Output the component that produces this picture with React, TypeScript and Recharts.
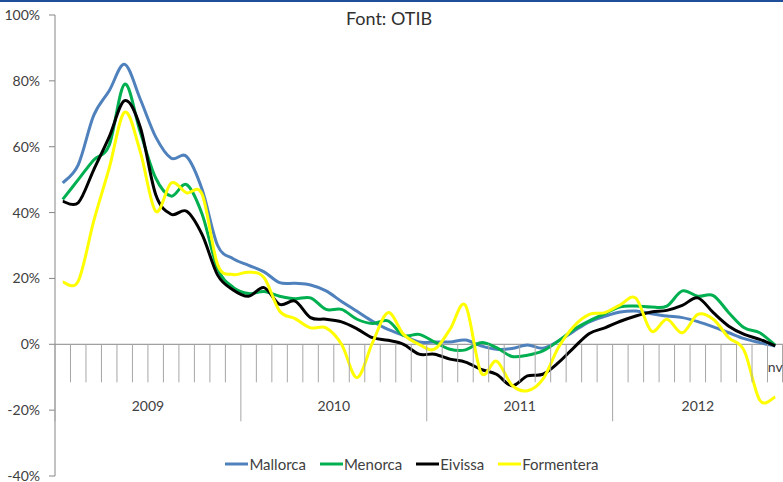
import React from "react";
import { LineChart, Line, XAxis, YAxis, ReferenceLine, Legend } from "recharts";

const categories = [
  "gn-09", "fb-09", "mç-09", "ab-09", "mg-09", "jn-09", "jl-09", "ag-09", "st-09", "oc-09", "nv-09", "ds-09",
  "gn-10", "fb-10", "mç-10", "ab-10", "mg-10", "jn-10", "jl-10", "ag-10", "st-10", "oc-10", "nv-10", "ds-10",
  "gn-11", "fb-11", "mç-11", "ab-11", "mg-11", "jn-11", "jl-11", "ag-11", "st-11", "oc-11", "nv-11", "ds-11",
  "gn-12", "fb-12", "mç-12", "ab-12", "mg-12", "jn-12", "jl-12", "ag-12", "st-12", "oc-12", "nv-12",
];

const shownTickLabels: Record<string, string> = { "nv-12": "nv" };

const mallorca = [
  49, 54.5, 69.5, 77, 85, 74.5, 63, 56.5, 57, 47, 30, 26,
  24, 22, 18.7, 18.5, 18, 16.2, 13, 10, 7, 4.5, 2.7, 0.7,
  0.7, 0.7, 1.3, -0.5, -1.5, -1.3, -0.2, -1.2, 1, 4, 6.8, 8.5,
  9.8, 10.1, 9.3, 8.6, 8.1, 6.9, 5.3, 3.5, 1.7, 0.5, -0.5,
];
const menorca = [
  44, 50, 56, 60.5, 79, 64.5, 50.5, 45, 48.5, 39.5, 23, 17.3,
  15.4, 16, 14.6, 13.8, 14.1, 10.6, 10.6, 7.6, 6.3, 7.1, 2.7, 3,
  0.7, -1.5, -1.7, 0.5, -1, -3.7, -3.3, -2, 1, 4.5, 7.1, 9.3,
  11.4, 11.6, 11.3, 11.6, 16.2, 14.6, 14.8, 9.6, 5, 3.5, -0.3,
];
const eivissa = [
  43.4, 43, 53, 63, 74, 66, 45.5, 39.5, 40.4, 33.3, 21, 16.5,
  14.6, 17.2, 12.1, 13.1, 8.1, 7.6, 6.8, 4.7, 2, 1.2, 0, -3,
  -3, -4.5, -5.4, -7.6, -9.1, -12.6, -9.6, -9.1, -5.6, -1, 3.3, 5,
  7, 8.6, 9.8, 10.3, 11.8, 14.1, 9.6, 5.5, 3, 1.5, -0.5,
];
const formentera = [
  18.9, 19.2, 37.4, 53.5, 70.5, 58.6, 40.4, 49, 46, 45.5, 24.2, 21.2,
  21.9, 20.2, 10.1, 7.8, 5, 5, 0, -10.1, 0.5, 9.6, 3, 0,
  -1.5, 4.5, 11.8, -8.6, -5.1, -12.4, -14.1, -10.6, -1, 5.5, 9.1, 9.6,
  12, 14, 4, 7.6, 3.5, 9.1, 7.6, 2, -2, -17, -16,
];

const yTicks = [-40, -20, 0, 20, 40, 60, 80, 100];
const title = "Font: OTIB";

const series = [
  { key: "Mallorca", values: mallorca, color: "#4F81BD" },
  { key: "Menorca", values: menorca, color: "#00B050" },
  { key: "Eivissa", values: eivissa, color: "#000000" },
  { key: "Formentera", values: formentera, color: "#FFFF00" },
];

const data = categories.map((m, i) => {
  const row: Record<string, any> = { m };
  series.forEach((s) => (row[s.key] = s.values[i]));
  return row;
});

// layout
const W = 783;
const H = 482;
const M_TOP = 15;
const Y_AXIS_W = 55;
const X_AXIS_H = 6;
const PLOT_W = W - Y_AXIS_W;
const PLOT_H = H - M_TOP - X_AXIS_H;
const Y_MIN = -40;
const Y_MAX = 100;
const Y0 = M_TOP + (PLOT_H * (Y_MAX - 0)) / (Y_MAX - Y_MIN);

const yearOf = (c: string) => "20" + c.slice(-2);

const TEXT = "#404040";
const TICK = "#a6a6a6";
const AXIS = "#868686";
const FONT = "Lato, 'Open Sans', 'DejaVu Sans', sans-serif";

// Excel-like smoothed line (Catmull-Rom through the points)
const excelCurve: any = (context: any) => {
  let pts: number[][] = [];
  return {
    areaStart() {},
    areaEnd() {},
    lineStart() {
      pts = [];
    },
    point(x: number, y: number) {
      pts.push([+x, +y]);
    },
    lineEnd() {
      const n = pts.length;
      if (!n) return;
      context.moveTo(pts[0][0], pts[0][1]);
      for (let i = 0; i < n - 1; i++) {
        const p0 = pts[i - 1] || pts[i];
        const p1 = pts[i];
        const p2 = pts[i + 1];
        const p3 = pts[i + 2] || p2;
        context.bezierCurveTo(
          p1[0] + (p2[0] - p0[0]) / 6,
          p1[1] + (p2[1] - p0[1]) / 6,
          p2[0] - (p3[0] - p1[0]) / 6,
          p2[1] - (p3[1] - p1[1]) / 6,
          p2[0],
          p2[1]
        );
      }
    },
  };
};

const MonthTick = (props: any) => {
  const { x, index } = props;
  const bw = PLOT_W / categories.length;
  const left = x - bw / 2;
  const cat = categories[index];
  const yr = yearOf(cat);
  const isYearStart = index === 0 || yearOf(categories[index - 1]) !== yr;
  const isLast = index === categories.length - 1;
  const n = categories.filter((c) => yearOf(c) === yr).length;
  const label = shownTickLabels[cat];
  return (
    <g>
      <line x1={left} x2={left} y1={Y0} y2={Y0 + (isYearStart ? 77 : 38)} stroke={TICK} strokeWidth={1} />
      {isLast && <line x1={left + bw - 0.5} x2={left + bw - 0.5} y1={Y0} y2={Y0 + 38} stroke={TICK} strokeWidth={1} />}
      {isYearStart && (
        <text x={left + (n * bw) / 2} y={Y0 + 67} textAnchor="middle" fill={TEXT} fontSize={14} fontFamily={FONT}>
          {yr}
        </text>
      )}
      {label && (
        <text x={x} y={Y0 + 28} textAnchor="middle" fill={TEXT} fontSize={14} fontFamily={FONT}>
          {label}
        </text>
      )}
    </g>
  );
};

const LegendContent = () => (
  <div style={{ display: "flex", justifyContent: "center", alignItems: "center", fontFamily: FONT, fontSize: 15, color: TEXT }}>
    {series.map((s) => (
      <div key={s.key} style={{ display: "flex", alignItems: "center", marginRight: 14 }}>
        <svg width={23} height={6} style={{ marginRight: 1 }}>
          <line x1={0} x2={23} y1={3} y2={3} stroke={s.color} strokeWidth={3} />
        </svg>
        <span>{s.key}</span>
      </div>
    ))}
  </div>
);

export default function App() {
  return (
    <div style={{ position: "absolute", left: 0, top: 0, width: W, height: H, background: "#fff", fontFamily: FONT }}>
      <div style={{ position: "absolute", left: 0, top: 0, width: W, height: 2, background: "#1F4E9A" }} />
      <div
        style={{
          position: "absolute",
          left: 0,
          width: W - 5,
          top: 7,
          textAlign: "center",
          fontSize: 18,
          color: "#303030",
          zIndex: 2,
        }}
      >
        {title}
      </div>
      <LineChart width={W} height={H} data={data} margin={{ top: M_TOP, right: 0, bottom: 0, left: 0 }}>
        <ReferenceLine y={0} stroke={AXIS} strokeWidth={1} ifOverflow="visible" />
        <XAxis
          dataKey="m"
          scale="band"
          interval={0}
          height={X_AXIS_H}
          axisLine={false}
          tickLine={false}
          tickSize={0}
          tickMargin={0}
          tick={<MonthTick />}
        />
        <YAxis
          width={Y_AXIS_W}
          domain={[Y_MIN, Y_MAX]}
          ticks={yTicks}
          interval={0}
          tickFormatter={(v: number) => `${v}%`}
          stroke={AXIS}
          tickSize={6}
          tickMargin={9}
          tick={{ fill: TEXT, fontSize: 14, fontFamily: FONT }}
        />
        {series.map((s) => (
          <Line
            key={s.key}
            dataKey={s.key}
            name={s.key}
            stroke={s.color}
            strokeWidth={3}
            dot={false}
            activeDot={false}
            type={excelCurve}
            isAnimationActive={false}
          />
        ))}
        <Legend
          layout="horizontal"
          verticalAlign="middle"
          align="center"
          content={<LegendContent />}
          wrapperStyle={{ top: 455, left: Y_AXIS_W, width: PLOT_W, height: 20 }}
        />
      </LineChart>
    </div>
  );
}
